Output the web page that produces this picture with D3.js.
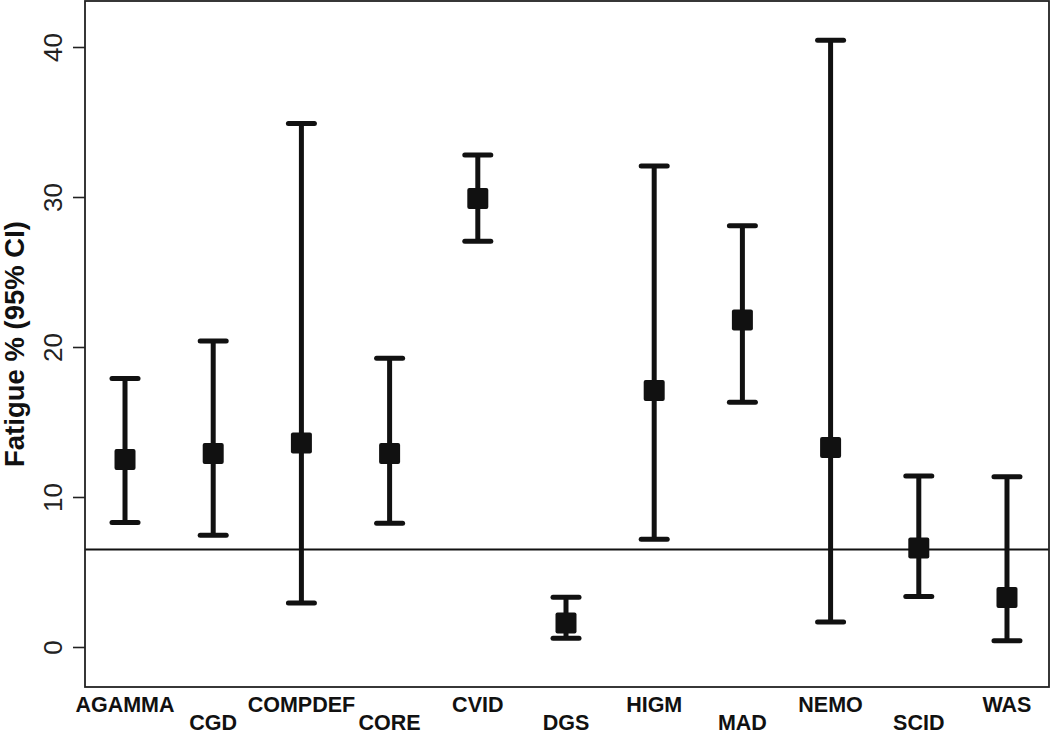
<!DOCTYPE html>
<html>
<head>
<meta charset="utf-8">
<script src="https://cdn.jsdelivr.net/npm/d3@7/dist/d3.min.js"></script>
<style>
  html, body { margin: 0; padding: 0; background: #fff; }
  svg { display: block; }
  text { font-family: "Liberation Sans", Arial, Helvetica, sans-serif; fill: #111; }
</style>
</head>
<body>
<svg id="chart" width="1050" height="735"></svg>
<script>
// ---- data ----
const categories = ["AGAMMA","CGD","COMPDEF","CORE","CVID","DGS","HIGM","MAD","NEMO","SCID","WAS"];
const estimate   = [12.5, 12.9, 13.6, 12.9, 29.9, 1.6, 17.1, 21.8, 13.3, 6.6, 3.3];
const lower      = [8.3, 7.45, 2.93, 8.25, 27.05, 0.58, 7.18, 16.31, 1.67, 3.36, 0.41];
const upper      = [17.9, 20.4, 34.9, 19.25, 32.8, 3.31, 32.07, 28.09, 40.45, 11.4, 11.35];
const refLine    = 6.5;
const yTicks     = [0, 10, 20, 30, 40];
const yTitle     = "Fatigue % (95% CI)";

// ---- layout ----
const W = 1050, H = 735;
const plot = { left: 85, right: 1049, top: 1, bottom: 687 };

const svg = d3.select("#chart");

const x = d3.scalePoint()
  .domain(categories)
  .range([plot.left - 1, plot.right - 1])
  .padding(0.465);

const y = d3.scaleLinear()
  .domain([-2.667, 43.067])
  .range([plot.bottom, plot.top]);

const rows = categories.map((c, i) => ({ c, i, est: estimate[i], lo: lower[i], hi: upper[i] }));

// reference line
svg.append("line")
  .attr("x1", plot.left).attr("x2", plot.right)
  .attr("y1", y(refLine)).attr("y2", y(refLine))
  .attr("stroke", "#111").attr("stroke-width", 2);

// error bars
const g = svg.append("g");
const capHalf = 13;
g.selectAll("line.v").data(rows).join("line")
  .attr("class", "v")
  .attr("x1", d => x(d.c)).attr("x2", d => x(d.c))
  .attr("y1", d => y(d.lo)).attr("y2", d => y(d.hi))
  .attr("stroke", "#111").attr("stroke-width", 5);
["lo", "hi"].forEach(k => {
  g.selectAll("line.cap-" + k).data(rows).join("line")
    .attr("class", "cap-" + k)
    .attr("x1", d => x(d.c) - capHalf).attr("x2", d => x(d.c) + capHalf)
    .attr("y1", d => y(d[k])).attr("y2", d => y(d[k]))
    .attr("stroke", "#111").attr("stroke-width", 5)
    .attr("stroke-linecap", "round");
});
const sq = 21;
g.selectAll("rect.pt").data(rows).join("rect")
  .attr("class", "pt")
  .attr("x", d => x(d.c) - sq / 2).attr("y", d => y(d.est) - sq / 2)
  .attr("width", sq).attr("height", sq)
  .attr("rx", 2).attr("ry", 2)
  .attr("fill", "#111");

// frame
svg.append("rect")
  .attr("x", plot.left).attr("y", plot.top)
  .attr("width", plot.right - plot.left).attr("height", plot.bottom - plot.top)
  .attr("fill", "none").attr("stroke", "#222").attr("stroke-width", 1.8);

// y axis
const yAxis = svg.append("g")
  .attr("transform", `translate(${plot.left},0)`)
  .call(d3.axisLeft(y).tickValues(yTicks).tickSize(12).tickPadding(0).tickFormat(d3.format("d")));
yAxis.select(".domain").remove();
yAxis.selectAll(".tick line").attr("stroke", "#222").attr("stroke-width", 1.6);
yAxis.selectAll(".tick text")
  .attr("x", 0).attr("dy", 0)
  .attr("transform", "translate(-23,0) rotate(-90)")
  .attr("text-anchor", "middle")
  .style("font-size", "26px")
  .style("fill", "#222");

// y title
svg.append("text")
  .attr("transform", `translate(24,${(plot.top + plot.bottom) / 2}) rotate(-90)`)
  .attr("text-anchor", "middle")
  .style("font-size", "27.5px")
  .style("font-weight", "bold")
  .text(yTitle);

// x labels (staggered)
svg.append("g").selectAll("text").data(rows).join("text")
  .attr("x", d => x(d.c))
  .attr("y", d => d.i % 2 === 0 ? 712 : 730)
  .attr("text-anchor", "middle")
  .style("font-size", "21.5px")
  .style("font-weight", "bold")
  .text(d => d.c);
</script>
</body>
</html>
